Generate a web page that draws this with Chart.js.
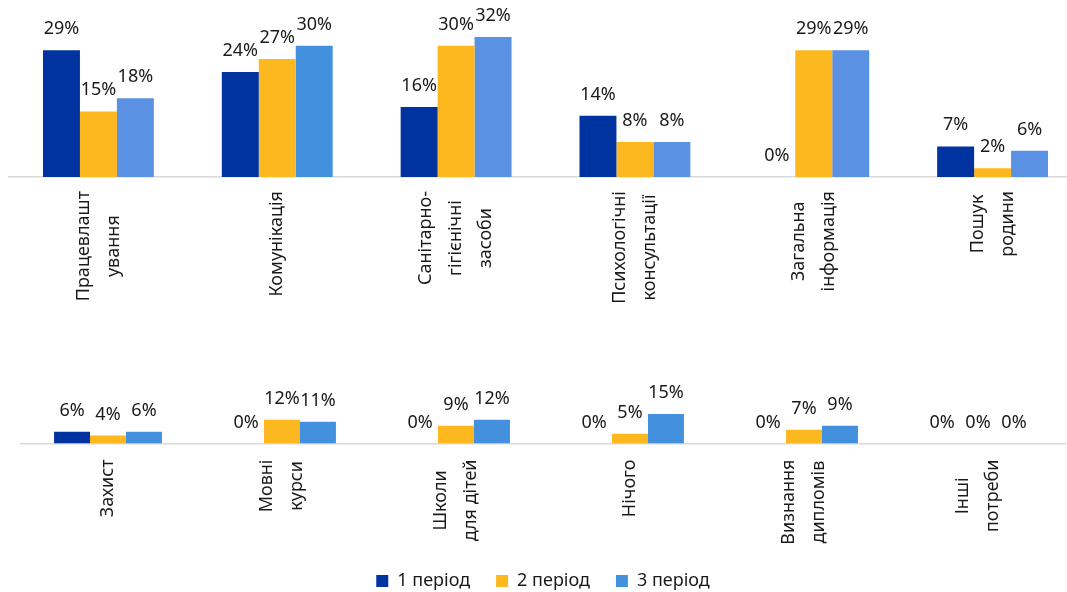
<!DOCTYPE html>
<html><head><meta charset="utf-8">
<script src="https://cdn.jsdelivr.net/npm/chart.js@4.4.1/dist/chart.umd.min.js"></script>
<style>
html,body{margin:0;padding:0;background:#fff;overflow:hidden;width:1067px;height:592px;}
#wrap{position:relative;width:1067px;height:592px;overflow:hidden;}
#topChart{position:absolute;left:0;top:0;}
#botChart{position:absolute;left:0;top:340px;}
</style></head><body>
<div id="wrap">
<canvas id="topChart" width="1082" height="340"></canvas>
<canvas id="botChart" width="1067" height="260"></canvas>
</div>
<script>
// ---- data ----
const seriesNames = ['1 період', '2 період', '3 період'];

const topCategories = [['Працевлашт', 'ування'], ['Комунікація'], ['Санітарно-', 'гігієнічні', 'засоби'], ['Психологічні', 'консультації'], ['Загальна', 'інформація'], ['Пошук', 'родини']];
const topPeriod1 = [29, 24, 16, 14, 0, 7];
const topPeriod2 = [15, 27, 30, 8, 29, 2];
const topPeriod3 = [18, 30, 32, 8, 29, 6];

const bottomCategories = [['Захист'], ['Мовні', 'курси'], ['Школи', 'для дітей'], ['Нічого'], ['Визнання', 'дипломів'], ['Інші', 'потреби']];
const bottomPeriod1 = [6, 0, 0, 0, 0, 0];
const bottomPeriod2 = [4, 12, 9, 5, 7, 0];
const bottomPeriod3 = [6, 11, 12, 15, 9, 0];

// ---- styles ----
const C1 = '#00339F', C2 = '#FDB71F', C3a = '#5B91E3', C3b = '#4390DF';
const topPeriod3Colors = [C3a, C3b, C3a, C3a, C3a, C3a];
const FONT = '"Noto Sans", "Open Sans", sans-serif';

const labelPlugin = {
  id: 'customLabels',
  afterDatasetsDraw(chart, args, opts) {
    const ctx = chart.ctx;
    ctx.save();
    ctx.font = '18px ' + FONT;
    ctx.fillStyle = '#1a1a1a';
    ctx.textAlign = 'center';
    ctx.textBaseline = 'alphabetic';
    chart.data.datasets.forEach((ds, di) => {
      const meta = chart.getDatasetMeta(di);
      meta.data.forEach((el, i) => {
        ctx.fillText(ds.data[i] + '%', el.x, el.y - opts.valueGap);
      });
    });
    const xs = chart.scales.x;
    const base = xs.top;
    chart.data.labels.forEach((lines, i) => {
      const cx = xs.getPixelForValue(i);
      const maxW = Math.max(...lines.map(l => ctx.measureText(l).width));
      const yc = base + opts.catGap + maxW / 2;
      lines.forEach((line, j) => {
        const lx = cx + (j - (lines.length - 1) / 2) * opts.lineSpacing;
        ctx.save();
        ctx.translate(lx, yc);
        ctx.rotate(-Math.PI / 2);
        ctx.textBaseline = 'middle';
        ctx.fillText(line, 0, 0);
        ctx.restore();
      });
    });
    ctx.restore();
  }
};

function makeChart(id, labels, d1, d2, d3, c3, yMax, pad, axisH, showLegend, valueGap, catGap) {
  return new Chart(document.getElementById(id), {
    type: 'bar',
    data: {
      labels: labels,
      datasets: [
        { label: seriesNames[0], data: d1, backgroundColor: C1 },
        { label: seriesNames[1], data: d2, backgroundColor: C2 },
        { label: seriesNames[2], data: d3, backgroundColor: c3 }
      ]
    },
    options: {
      responsive: false,
      animation: false,
      categoryPercentage: 0.62,
      barPercentage: 1.0,
      layout: { padding: pad },
      scales: {
        x: {
          offset: true,
          grid: { display: false, drawTicks: false },
          ticks: { display: false },
          border: { display: true, color: '#D9D9D9', width: 1.5 },
          afterFit(s) { s.height = axisH; }
        },
        y: { display: false, min: 0, max: yMax }
      },
      plugins: {
        legend: {
          display: showLegend,
          position: 'bottom',
          labels: { boxWidth: 12, boxHeight: 12, padding: 26, color: '#1a1a1a', font: { size: 18, family: FONT } }
        },
        tooltip: { enabled: false },
        customLabels: { valueGap: valueGap, catGap: catGap, lineSpacing: 30 }
      }
    },
    plugins: [labelPlugin]
  });
}

makeChart('topChart', topCategories, topPeriod1, topPeriod2, topPeriod3, topPeriod3Colors, 35,
  { left: 9, right: 0, top: 24, bottom: 0 }, 163, false, 16, 14);
makeChart('botChart', bottomCategories, bottomPeriod1, bottomPeriod2, bottomPeriod3, C3b, 20,
  { left: 21, right: 2, top: 64, bottom: 0 }, 102.5, true, 16, 16);
</script>
</body></html>
